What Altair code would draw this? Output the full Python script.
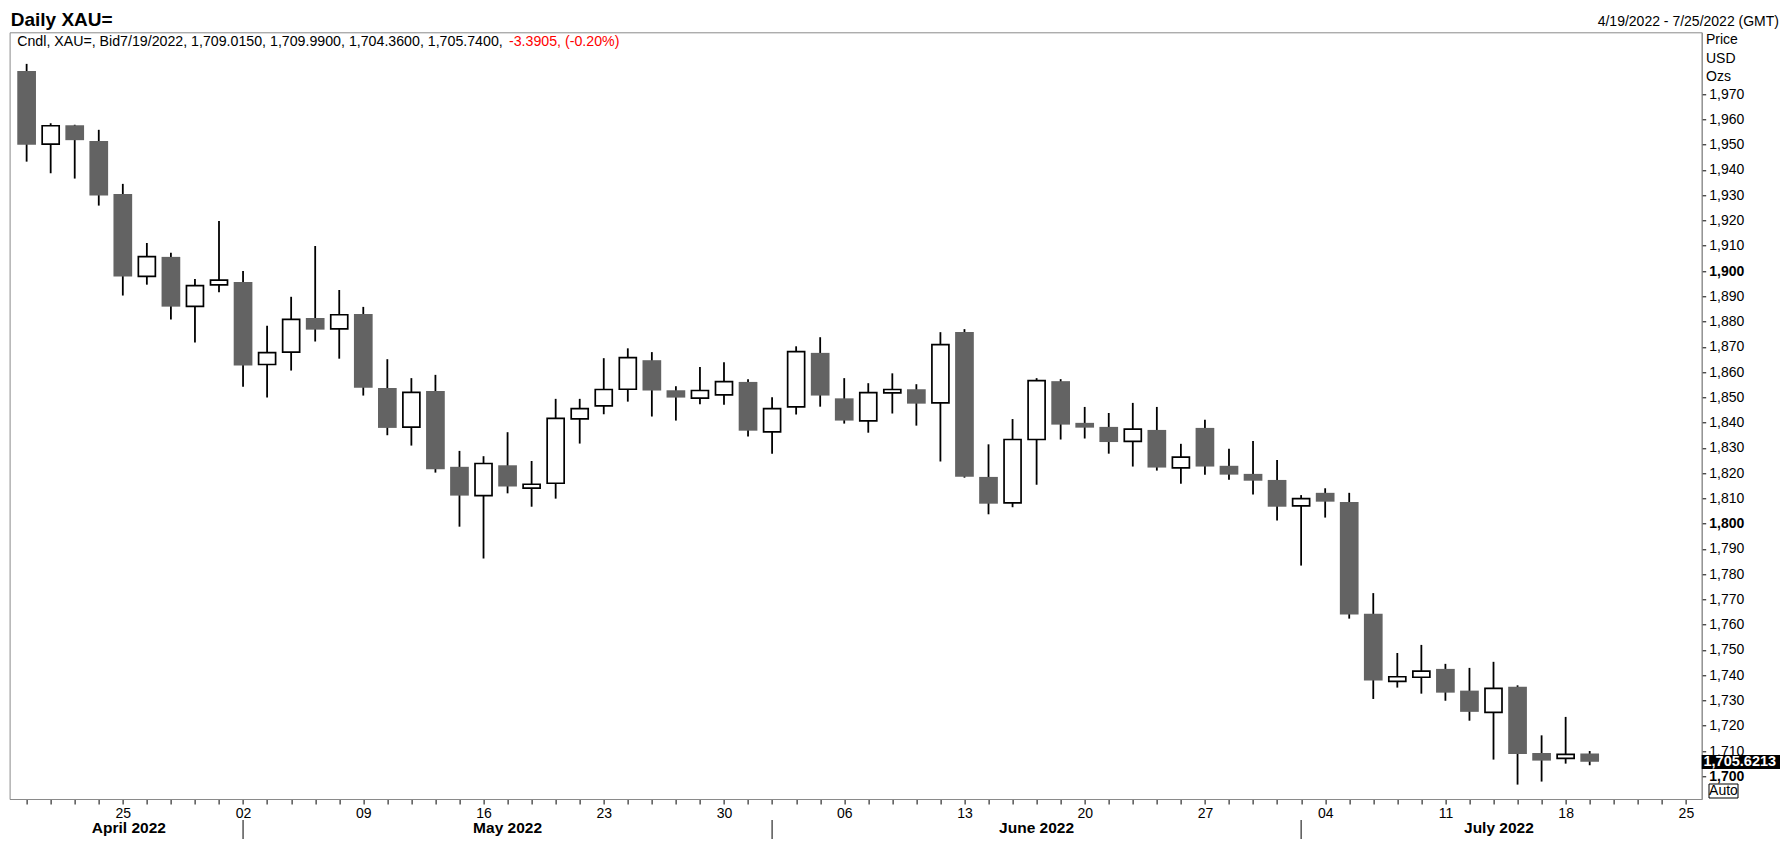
import altair as alt
import pandas as pd

FONT = "Liberation Sans"

# ---------------- data ----------------
candle_dates = [d.strftime("%Y-%m-%d") for d in pd.bdate_range("2022-04-19", "2022-07-19")]
axis_dates = [d for d in pd.bdate_range("2022-04-19", "2022-07-25")]

opens = [1979.2, 1950.2, 1957.7, 1951.5, 1930.5, 1897.9, 1905.6, 1886.0, 1894.5,
         1895.7, 1863.0, 1867.9, 1881.4, 1877.1, 1883.0, 1853.7, 1838.2, 1852.5, 1822.5,
         1811.1, 1823.1, 1814.1, 1816.0, 1841.5, 1846.6, 1853.2, 1864.7, 1852.8, 1849.7,
         1851.0, 1856.1, 1836.3, 1846.2, 1867.6, 1849.6, 1840.7, 1851.8, 1853.2, 1847.8,
         1875.9, 1818.5, 1808.2, 1833.3, 1856.4, 1839.9, 1838.3, 1832.6, 1837.1, 1822.1,
         1837.9, 1822.9, 1819.7, 1817.3, 1807.0, 1812.2, 1808.6, 1764.3, 1737.6, 1739.2,
         1742.5, 1733.9, 1725.3, 1735.4, 1709.2, 1707.1, 1709.015]
highs = [1982.0, 1958.5, 1957.9, 1955.9, 1934.5, 1911.1, 1907.2, 1896.8, 1919.8,
         1900.0, 1878.3, 1889.8, 1909.9, 1892.5, 1885.8, 1865.1, 1857.6, 1858.9, 1828.8,
         1826.7, 1836.2, 1824.8, 1849.4, 1849.4, 1865.5, 1869.4, 1867.9, 1854.4, 1862.0,
         1863.9, 1857.2, 1850.0, 1870.2, 1873.8, 1857.6, 1855.6, 1859.5, 1855.2, 1875.8,
         1877.0, 1831.4, 1841.4, 1857.6, 1857.2, 1846.2, 1843.8, 1847.8, 1846.2, 1831.6,
         1841.1, 1829.6, 1832.7, 1825.2, 1811.3, 1814.0, 1812.2, 1772.5, 1748.8, 1752.0,
         1744.5, 1742.9, 1745.3, 1736.0, 1716.2, 1723.5, 1709.99]
lows = [1943.3, 1938.7, 1936.6, 1925.9, 1890.3, 1894.6, 1880.8, 1871.7, 1891.6,
        1854.2, 1849.9, 1860.6, 1872.1, 1865.3, 1850.7, 1835.0, 1830.9, 1820.2, 1798.8,
        1786.2, 1812.0, 1806.7, 1809.9, 1831.7, 1843.3, 1848.3, 1842.4, 1840.8, 1847.3,
        1847.1, 1834.5, 1827.7, 1843.2, 1846.3, 1839.6, 1836.0, 1843.6, 1838.8, 1824.6,
        1818.2, 1803.7, 1806.5, 1815.4, 1833.3, 1833.7, 1827.7, 1822.6, 1821.0, 1815.8,
        1819.4, 1817.4, 1811.5, 1801.2, 1783.4, 1802.4, 1762.4, 1730.6, 1735.1, 1732.7,
        1729.9, 1722.0, 1706.6, 1696.7, 1697.9, 1705.0, 1704.36]
closes = [1950.0, 1957.5, 1951.8, 1929.9, 1897.8, 1905.7, 1885.9, 1894.2, 1896.4,
          1862.6, 1867.7, 1880.9, 1876.8, 1882.7, 1853.8, 1837.9, 1852.0, 1821.5, 1811.1,
          1823.8, 1814.7, 1815.6, 1841.7, 1845.5, 1853.1, 1865.7, 1852.7, 1849.9, 1852.7,
          1856.2, 1836.8, 1845.5, 1868.1, 1850.7, 1840.8, 1851.9, 1853.1, 1847.5, 1870.9,
          1818.6, 1807.9, 1833.3, 1856.6, 1839.2, 1838.0, 1832.3, 1837.4, 1822.2, 1826.3,
          1822.6, 1819.4, 1817.0, 1806.7, 1809.9, 1808.7, 1764.0, 1737.9, 1739.4, 1741.6,
          1733.1, 1725.5, 1734.8, 1708.8, 1706.2, 1708.7, 1705.74]

last_price = 1705.6213
y_ticks = list(range(1700, 1971, 10))

title_text = "Daily XAU="
header_black = "Cndl, XAU=, Bid7/19/2022, 1,709.0150, 1,709.9900, 1,704.3600, 1,705.7400, "
header_red = "-3.3905, (-0.20%)"
date_range_text = "4/19/2022 - 7/25/2022 (GMT)"
unit_labels = ["Price", "USD", "Ozs"]
auto_text = "Auto"

# ---------------- layout ----------------
W, H = 1692.1, 766.7
X_DOM = [-0.5, 69.45]
Y_DOM = [1691.0, 1994.5]

df = pd.DataFrame({"date": candle_dates, "open": opens, "high": highs,
                   "low": lows, "close": closes})
df["idx"] = range(len(df))
df["up"] = df["close"] >= df["open"]
df["body_lo"] = df[["open", "close"]].min(axis=1)
df["body_hi"] = df[["open", "close"]].max(axis=1)

# axis day labels (Mondays only)
day_labels = [d.strftime("%d") if d.weekday() == 0 else "" for d in axis_dates]
label_js = "[" + ",".join("'%s'" % s for s in day_labels) + "]"

# month separators and month label centres
month_starts = []
for i, d in enumerate(axis_dates):
    if i > 0 and d.month != axis_dates[i - 1].month:
        month_starts.append(i)
sep_df = pd.DataFrame({"idx": month_starts})
bounds = [X_DOM[0]] + month_starts + [X_DOM[1]]
month_names = [axis_dates[0].strftime("%B %Y")] + [axis_dates[i].strftime("%B %Y") for i in month_starts]
month_df = pd.DataFrame({"label": month_names,
                         "idx": [(bounds[k] + bounds[k + 1]) / 2 for k in range(len(month_names))]})

x_scale = alt.Scale(domain=X_DOM, nice=False, zero=False)
y_scale = alt.Scale(domain=Y_DOM, nice=False, zero=False)

x_axis = alt.Axis(values=list(range(len(axis_dates))), labelExpr=label_js + "[datum.value]",
                  tickSize=5, tickColor="black", domainColor="#8a8a8a", labelPadding=2,
                  labelFont=FONT, labelFontSize=14, labelColor="black", labelFlush=False,
                  labelOverlap=False, grid=False, title=None)
y_axis = alt.Axis(orient="right", values=y_ticks, format=",d", tickSize=4, labelPadding=3,
                  tickColor="black", domainColor="#8a8a8a", labelFont=FONT, labelFontSize=14,
                  labelColor="black", labelOverlap=False, grid=False, title=None,
                  labelFontWeight={"condition": {"test": "datum.value % 100 === 0", "value": "bold"},
                                   "value": "normal"})


def X(field="idx"):
    return alt.X(f"{field}:Q", scale=x_scale, axis=x_axis)


def Y(field):
    return alt.Y(f"{field}:Q", scale=y_scale, axis=y_axis)


wicks = alt.Chart(df).mark_rule(color="black", strokeWidth=1.8).encode(
    x=X(), y=Y("low"), y2="high:Q")
down = alt.Chart(df).transform_filter("!datum.up").mark_bar(size=18.7, color="#636363").encode(
    x=X(), y=Y("body_lo"), y2="body_hi:Q")
up = alt.Chart(df).transform_filter("datum.up").mark_bar(
    size=17, fill="white", stroke="black", strokeWidth=1.7).encode(
    x=X(), y=Y("body_lo"), y2="body_hi:Q")

seps = alt.Chart(sep_df).mark_rule(color="black", strokeWidth=1).encode(
    x=X(), y=alt.value(787.7), y2=alt.value(806.7))
months = alt.Chart(month_df).mark_text(font=FONT, fontSize=15.5, fontWeight="bold",
                                       align="center", baseline="middle", y=796,
                                       color="black").encode(x=X(), text="label:N")

price_df = pd.DataFrame({"price": [last_price], "label": [f"{last_price:,.4f}"]})
price_box = alt.Chart(price_df).mark_rule(color="black", strokeWidth=14).encode(
    x=alt.value(W), x2=alt.value(W + 84), y=Y("price"))
price_txt = alt.Chart(price_df).mark_text(font=FONT, fontSize=14.5, fontWeight="bold",
                                          color="white", align="left", baseline="middle").encode(
    x=alt.value(W + 1.8), y=Y("price"), text="label:N")

auto_df = pd.DataFrame({"t": [auto_text]})
auto_box = alt.Chart(auto_df).mark_rect(fill="white", stroke="black", strokeWidth=1).encode(
    x=alt.value(W + 7.3), x2=alt.value(W + 36.3), y=alt.value(751.7), y2=alt.value(765.7))
auto_txt = alt.Chart(auto_df).mark_text(font=FONT, fontSize=14, color="black", align="center",
                                        baseline="middle", x=W + 21.8, y=758.9).encode(text="t:N")


def label(text, x, y, size=14, weight="normal", color="black", align="left"):
    return alt.Chart(pd.DataFrame({"t": [text]})).mark_text(
        font=FONT, fontSize=size, fontWeight=weight, color=color, align=align,
        baseline="middle", x=x, y=y).encode(text="t:N")


texts = [
    label(title_text, 1.1, -12.6, size=19, weight="bold"),
    label(header_black, 7.6, 9.4, size=14.2),
    label(header_red, 499.4, 9.4, size=14.2, color="#ff0000"),
    label(date_range_text, 1769.4, -10.6, align="right"),
]
for k, u in enumerate(unit_labels):
    texts.append(label(u, W + 4.3, 7.9 + 18.35 * k))

chart = alt.layer(wicks, down, up, seps, months, price_box, price_txt, auto_box, auto_txt,
                  *texts).properties(
    width=W, height=H,
    padding={"left": 1.6, "top": 24.3, "right": 77.8, "bottom": 41},
    autosize=alt.AutoSizeParams(type="none"),
    background="white",
).configure_view(stroke="#8a8a8a", strokeWidth=1)

chart.save("out.html", embed_options={"renderer": "svg", "actions": False})
